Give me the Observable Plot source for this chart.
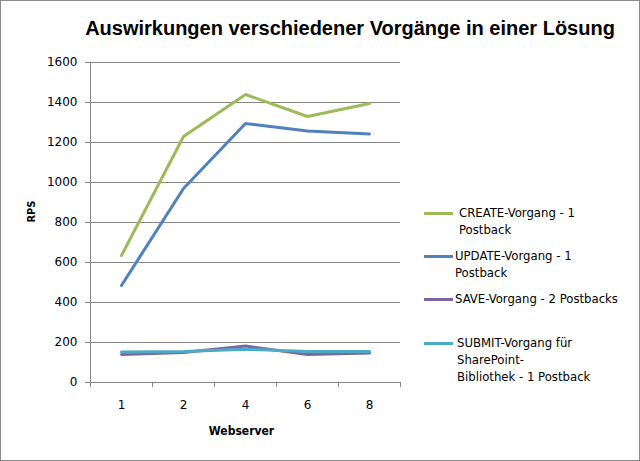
<!DOCTYPE html>
<html><head><meta charset="utf-8">
<script src="https://cdn.jsdelivr.net/npm/d3@7"></script>
<script src="https://cdn.jsdelivr.net/npm/@observablehq/plot@0.6"></script>
<style>
html,body{margin:0;padding:0;background:#fff;}
#wrap{position:relative;width:640px;height:461px;overflow:hidden;}
#wrap svg.plot{position:absolute;left:0;top:0;}
#frame{position:absolute;left:0;top:0;width:638px;height:459px;border:1px solid #8a8a8a;pointer-events:none;}
#title{position:absolute;left:0;width:640px;top:17px;text-align:center;padding-left:60px;box-sizing:border-box;font:bold 20px "Liberation Sans",Arial,sans-serif;color:#000;white-space:nowrap;}
.leg{position:absolute;font:13px "DejaVu Sans Condensed","DejaVu Sans",sans-serif;line-height:17px;color:#000;}
.sw{position:absolute;width:29px;height:3px;}
</style></head>
<body><div id="wrap"><div id="title">Auswirkungen verschiedener Vorgänge in einer Lösung</div></div>
<script>
const categories = ["1","2","4","6","8"];
const seriesNames = ["CREATE-Vorgang - 1 Postback","UPDATE-Vorgang - 1 Postback","SAVE-Vorgang - 2 Postbacks","SUBMIT-Vorgang für SharePoint-Bibliothek - 1 Postback"];
const createValues = [635, 1230, 1440, 1330, 1395];
const updateValues = [485, 970, 1295, 1258, 1243];
const saveValues = [140, 150, 182, 140, 148];
const submitValues = [152, 155, 166, 155, 155];
const colors = ["#9BBB59","#4F81BD","#8064A2","#4BACC6"];
const yTicks = [0,200,400,600,800,1000,1200,1400,1600];

const allValues = [createValues, updateValues, saveValues, submitValues];
const data = [];
allValues.forEach((vals, s) => vals.forEach((v, i) => data.push({series: seriesNames[s], idx: i + 0.5, cat: categories[i], value: v})));

const chart = Plot.plot({
  width: 640, height: 461,
  marginLeft: 90, marginRight: 240, marginTop: 62, marginBottom: 79,
  style: {fontFamily: "DejaVu Sans, sans-serif", fontSize: "12px", background: "transparent"},
  x: {domain: [0, categories.length], axis: null},
  y: {domain: [0, 1600], axis: null},
  color: {domain: seriesNames, range: colors},
  marks: [
    Plot.gridY(yTicks.filter(d => d > 0), {stroke: "#868686", strokeOpacity: 1, strokeWidth: 1}),
    Plot.ruleX([0], {stroke: "#868686"}),
    Plot.ruleY([0], {stroke: "#868686"}),
    Plot.axisY(yTicks, {tickSize: 5, tickPadding: 8, stroke: "#868686", fontSize: 12, label: null, tickFormat: d => String(d)}),
    Plot.axisX(d3.range(categories.length + 1), {tickSize: 5, stroke: "#868686", tickFormat: () => "", label: null}),
    Plot.axisX(categories.map((c, i) => i + 0.5), {tickSize: 0, tickPadding: 18, tickFormat: (d) => categories[Math.floor(d)], fontSize: 12, label: null}),
    Plot.line(data, {x: "idx", y: "value", z: "series", stroke: "series", strokeWidth: 3, curve: "linear"}),
    Plot.text(["Webserver"], {frameAnchor: "bottom", dy: 52, dx: -4, fontWeight: "bold", fontSize: 12, fontFamily: "DejaVu Sans Condensed, DejaVu Sans, sans-serif"}),
    Plot.text(["RPS"], {frameAnchor: "left", dx: -59, rotate: -90, fontWeight: "bold", fontSize: 11, fontFamily: "DejaVu Sans Condensed, DejaVu Sans, sans-serif"})
  ]
});
chart.classList.add("plot");
const wrap = document.getElementById("wrap");
wrap.appendChild(chart);

const legendLines = [["CREATE-Vorgang - 1","Postback"],["UPDATE-Vorgang - 1","Postback"],["SAVE-Vorgang - 2 Postbacks"],["SUBMIT-Vorgang für","SharePoint-","Bibliothek - 1 Postback"]];
const legY = [213, 256, 299, 343];
const legX = [459, 455, 455, 457];
seriesNames.forEach((s, i) => {
  const sw = document.createElement("div");
  sw.className = "sw";
  sw.style.left = "424px"; sw.style.top = (legY[i] - 1.5) + "px"; sw.style.background = colors[i];
  wrap.appendChild(sw);
  const t = document.createElement("div");
  t.className = "leg";
  t.style.left = legX[i] + "px"; t.style.top = (legY[i] - 9) + "px";
  t.innerHTML = legendLines[i].join("<br>");
  wrap.appendChild(t);
});
const fr = document.createElement("div"); fr.id = "frame"; wrap.appendChild(fr);
</script></body></html>
